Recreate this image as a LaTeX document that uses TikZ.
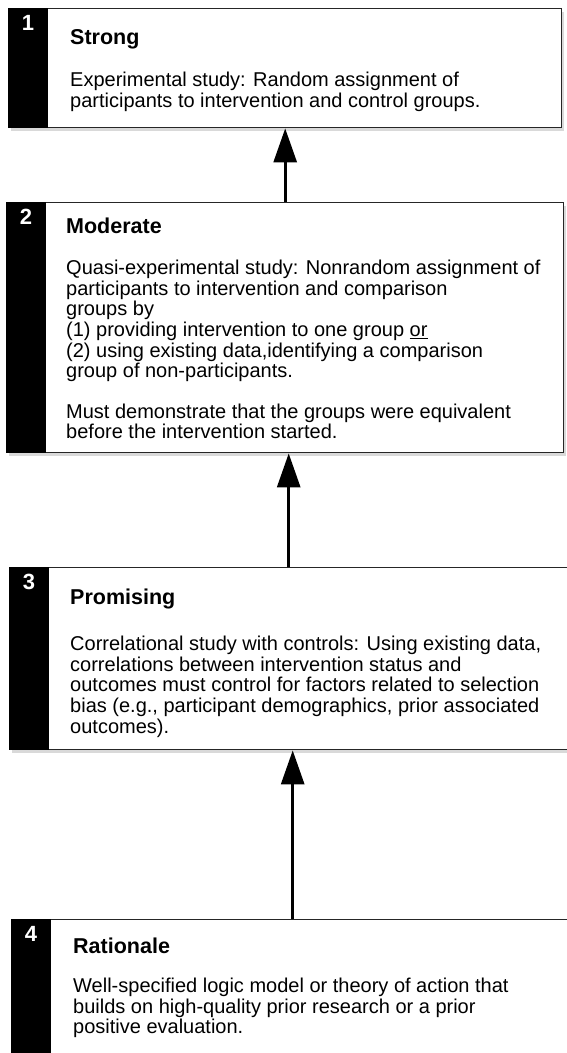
\documentclass[tikz,border=0pt]{standalone}
\usepackage{fontspec}
\setmainfont{Liberation Sans}
\usetikzlibrary{arrows.meta,shadows,positioning}

\begin{document}
\begin{tikzpicture}[x=1pt, y=-1pt,
  level/.style={draw=black!85, line width=1.4pt, fill=white, rectangle, anchor=north west, inner sep=0pt,
    drop shadow={shadow xshift=2pt, shadow yshift=-3pt, opacity=0.3}},
  num/.style={text=white, font=\bfseries\fontsize{22}{22}\selectfont, anchor=north, inner sep=0pt},
  title/.style={font=\bfseries\fontsize{21.5}{22}\selectfont, anchor=base west, inner sep=0pt},
  body/.style={font=\fontsize{20}{20.6}\selectfont, align=left, anchor=north west, inner sep=0pt},
  up/.style={line width=3pt, -{Triangle[length=34pt, width=23pt]}}]
\useasboundingbox (0,0) rectangle (566,1053);

% Boxes
\node[level, minimum width=553pt, minimum height=119pt] (box1) at (8,8) {};
\node[level, minimum width=557pt, minimum height=250pt] (box2) at (6,202) {};
\node[level, minimum width=558pt, minimum height=182pt] (box3) at (9,567) {};
\node[level, minimum width=562pt, minimum height=175pt] (box4) at (11,919) {};

% Black number bars
\foreach \b in {box1,box2,box3,box4}
  \fill[black] (\b.north west) rectangle ([xshift=40pt]\b.south west);

% Numbers
\node[num] (n1) at ([xshift=20pt, yshift=-7pt]box1.north west) {1};
\node[num] (n2) at ([xshift=20pt, yshift=-7pt]box2.north west) {2};
\node[num] (n3) at ([xshift=20pt, yshift=-7pt]box3.north west) {3};
\node[num] (n4) at ([xshift=20pt, yshift=-7pt]box4.north west) {4};

% Titles
\node[title] (t1) at ([xshift=62pt, yshift=-36pt]box1.north west) {Strong};
\node[title] (t2) at ([xshift=60pt, yshift=-31pt]box2.north west) {Moderate};
\node[title] (t3) at ([xshift=61pt, yshift=-37pt]box3.north west) {Promising};
\node[title] (t4) at ([xshift=62pt, yshift=-34pt]box4.north west) {Rationale};

% Descriptions
\node[body] (d1) at ([yshift=-28pt]t1.base west) {Experimental study: Random assignment of\\
  participants to intervention and control groups.};
\node[body] (d2) at ([yshift=-27pt]t2.base west) {Quasi-experimental study: Nonrandom assignment of\\
  participants to intervention and comparison\\
  groups by\\
  (1) providing intervention to one group \underline{or}\\
  (2) using existing data,identifying a comparison\\
  group of non-participants.\\[20pt]
  Must demonstrate that the groups were equivalent\\
  before the intervention started.};
\node[body] (d3) at ([yshift=-32pt]t3.base west) {Correlational study with controls: Using existing data,\\
  correlations between intervention status and\\
  outcomes must control for factors related to selection\\
  bias (e.g., participant demographics, prior associated\\
  outcomes).};
\node[body] (d4) at ([yshift=-25pt]t4.base west) {Well-specified logic model or theory of action that\\
  builds on high-quality prior research or a prior\\
  positive evaluation.};

% Arrows
\draw[up] (box2.north) -- (box2.north |- box1.south);
\draw[up] (box3.north) -- (box3.north |- box2.south);
\draw[up] (box4.north) -- (box4.north |- box3.south);
\end{tikzpicture}
\end{document}
